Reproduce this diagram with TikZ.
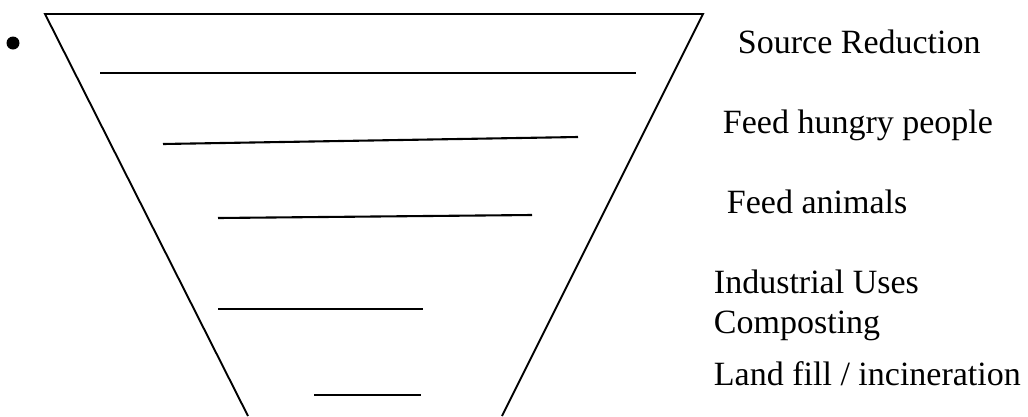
\documentclass[tikz,border=0pt]{standalone}
\usepackage{fontspec}
\setmainfont{Liberation Serif}
\usepackage{tikz}
\usetikzlibrary{positioning}

\begin{document}
\begin{tikzpicture}[x=1pt,y=-1pt,line width=1.9pt,every node/.style={font=\fontsize{34}{40}\selectfont,inner sep=0pt,anchor=base west},rung/.style={line width=2.1pt}]
\useasboundingbox (0,0) rectangle (1028,416);
% bullet and funnel
\fill (13,43) circle (6.5);
\coordinate (tl) at (45,14);
\coordinate (tr) at (703,14);
\coordinate (bl) at (248,416);
\coordinate (br) at (502,416);
\draw (bl)--(tl)--(tr)--(br);
% rungs
\draw[rung] (100,73)--(636,73);
\draw[rung] (163,144)--(578,137);
\draw[rung] (218,218)--(532,215);
\draw[rung] (218,309)--(423,309);
\draw[rung] (314,395)--(421,395);
% labels
\node (src) at (737,53) {Source Reduction};
\node (ppl) at (722,133) {Feed hungry people};
\node (ani) at (726,213) {Feed animals};
\node (ind) at (713,293) {Industrial Uses};
\node (cmp) at (713,333) {Composting};
\node (lnd) at (713,385) {Land fill / incineration};
\end{tikzpicture}
\end{document}
